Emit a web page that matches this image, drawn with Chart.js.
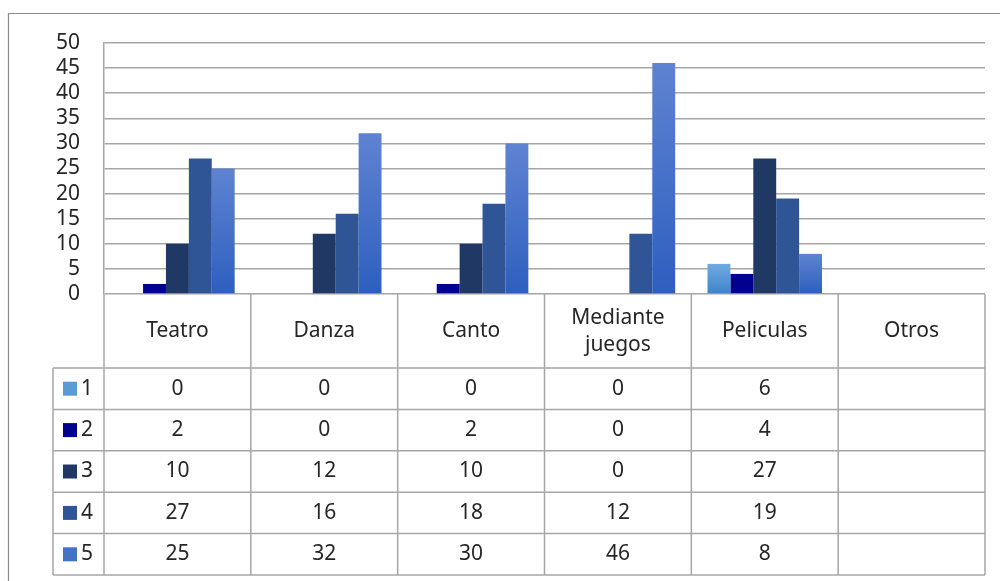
<!DOCTYPE html>
<html>
<head>
<meta charset="utf-8">
<script src="https://cdn.jsdelivr.net/npm/chart.js@4/dist/chart.umd.min.js"></script>
<style>
  html, body { margin: 0; padding: 0; background: #fff; }
  #wrap { width: 1000px; height: 581px; }
</style>
</head>
<body>
<div id="wrap"><canvas id="myChart"></canvas></div>
<script>
// data
const categories = ['Teatro', 'Danza', 'Canto', 'Mediante juegos', 'Peliculas', 'Otros'];
const seriesNames = ['1', '2', '3', '4', '5'];
const serie1 = [0, 0, 0, 0, 6, null];
const serie2 = [2, 0, 2, 0, 4, null];
const serie3 = [10, 12, 10, 0, 27, null];
const serie4 = [27, 16, 18, 12, 19, null];
const serie5 = [25, 32, 30, 46, 8, null];
const yTicks = [0, 5, 10, 15, 20, 25, 30, 35, 40, 45, 50];

const allSeries = [serie1, serie2, serie3, serie4, serie5];
// [top, bottom] of each bar fill, swatch colour for the table
const fills = [
  ['#72aae2', '#3d84c8'],
  ['#000090', '#000090'],
  ['#203864', '#203864'],
  ['#2f5597', '#2f5597'],
  ['#5f83d2', '#2d5fbf']
];
const swatches = ['#5b9bd5', '#000090', '#203864', '#2f5597', '#4472c4'];

const FONT = '"Noto Sans", "Open Sans", sans-serif';
const gridColor = '#a6a6a6';

function barFill(i) {
  return function (ctx) {
    if (ctx.type !== 'data' || ctx.raw == null) return fills[i][1];
    const chart = ctx.chart;
    if (!chart.chartArea) return fills[i][1];
    const y = chart.scales.y;
    const top = y.getPixelForValue(ctx.raw);
    const base = y.getPixelForValue(0);
    if (base - top < 1) return fills[i][1];
    const g = chart.ctx.createLinearGradient(0, top, 0, base);
    g.addColorStop(0, fills[i][0]);
    g.addColorStop(1, fills[i][1]);
    return g;
  };
}

const tablePlugin = {
  id: 'dataTable',
  beforeDraw(chart) {
    const c = chart.ctx;
    c.save();
    c.fillStyle = '#fff';
    c.fillRect(0, 0, chart.width, chart.height);
    c.strokeStyle = '#8c8c8c';
    c.lineWidth = 1.2;
    c.beginPath();
    c.moveTo(8.5, chart.height + 5);
    c.lineTo(8.5, 13.5);
    c.lineTo(chart.width + 5, 13.5);
    c.stroke();
    c.restore();
  },
  afterDraw(chart) {
    const c = chart.ctx;
    const area = chart.chartArea;
    const colW = (area.right - area.left) / categories.length;
    const headTop = area.bottom;
    const headBottom = 368;
    const tableBottom = 575;
    const rowH = (tableBottom - headBottom) / seriesNames.length;
    const legLeft = 53;

    c.save();
    c.strokeStyle = gridColor;
    c.lineWidth = 1.5;
    c.beginPath();
    // vertical lines
    for (let i = 0; i <= categories.length; i++) {
      const x = area.left + i * colW;
      c.moveTo(x, headTop);
      c.lineTo(x, tableBottom);
    }
    c.moveTo(legLeft, headBottom);
    c.lineTo(legLeft, tableBottom);
    // horizontal lines
    for (let r = 0; r <= seriesNames.length; r++) {
      const y = headBottom + r * rowH;
      c.moveTo(legLeft, y);
      c.lineTo(area.right, y);
    }
    c.stroke();

    c.fillStyle = '#262626';
    c.font = '21px ' + FONT;
    c.textAlign = 'center';
    c.textBaseline = 'middle';
    // header
    categories.forEach((cat, i) => {
      const cx = area.left + (i + 0.5) * colW;
      const words = cat.split(' ');
      const cy = (headTop + headBottom) / 2;
      if (words.length > 1) {
        c.fillText(words[0], cx, cy - 13);
        c.fillText(words.slice(1).join(' '), cx, cy + 14);
      } else {
        c.fillText(cat, cx, cy);
      }
    });
    // rows
    seriesNames.forEach((name, r) => {
      const cy = headBottom + (r + 0.5) * rowH;
      c.fillStyle = swatches[r];
      c.fillRect(63, cy - 7, 14, 14);
      c.fillStyle = '#262626';
      c.textAlign = 'left';
      c.fillText(name, 81, cy);
      c.textAlign = 'center';
      allSeries[r].forEach((v, i) => {
        if (v == null) return;
        c.fillText(String(v), area.left + (i + 0.5) * colW, cy);
      });
    });
    c.restore();
  }
};

new Chart(document.getElementById('myChart'), {
  type: 'bar',
  data: {
    labels: categories,
    datasets: allSeries.map((d, i) => ({
      label: seriesNames[i],
      data: d,
      backgroundColor: barFill(i),
      borderWidth: 0,
      categoryPercentage: 0.78,
      barPercentage: 1
    }))
  },
  options: {
    responsive: true,
    maintainAspectRatio: false,
    animation: false,
    devicePixelRatio: 1,
    layout: { padding: { top: 43, right: 15, bottom: 287, left: 0 } },
    plugins: {
      legend: { display: false },
      tooltip: { enabled: false }
    },
    scales: {
      x: {
        display: false
      },
      y: {
        min: 0,
        max: 50,
        afterBuildTicks(scale) {
          scale.ticks = yTicks.map(v => ({ value: v }));
        },
        afterFit(scale) {
          scale.width = 104;
        },
        border: { display: true, color: gridColor, width: 1.5 },
        grid: { color: gridColor, lineWidth: 1.5, drawTicks: false },
        ticks: {
          autoSkip: false,
          color: '#262626',
          padding: 24,
          font: { family: FONT, size: 21 }
        }
      }
    }
  },
  plugins: [tablePlugin]
});
</script>
</body>
</html>
